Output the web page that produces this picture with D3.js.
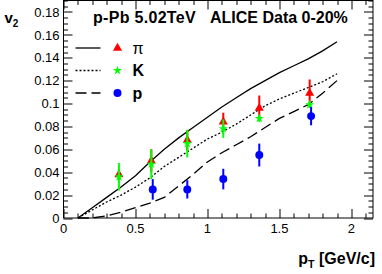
<!DOCTYPE html>
<html>
<head>
<meta charset="UTF-8">
<script src="https://d3js.org/d3.v7.min.js"></script>
<style>
body { margin: 0; background: #fff; }
svg { font-family: "Liberation Sans", Arial, Helvetica, sans-serif; }
</style>
</head>
<body>
<div id="chart"></div>
<script>
// model curves (pT grid)
var curvePt = [0.1, 0.2, 0.3, 0.4, 0.5, 0.6, 0.7, 0.8, 0.9, 1.0, 1.1, 1.2, 1.3, 1.4, 1.5, 1.6, 1.7, 1.8, 1.9];
var curvePi = [0, 0.009, 0.018, 0.027, 0.037, 0.049, 0.060, 0.070, 0.079, 0.088, 0.097, 0.105, 0.113, 0.120, 0.127, 0.133, 0.139, 0.146, 0.154];
var curveK  = [0, 0.007, 0.014, 0.020, 0.027, 0.035, 0.045, 0.053, 0.061, 0.069, 0.075, 0.082, 0.090, 0.098, 0.104, 0.109, 0.114, 0.119, 0.126];
var curveP  = [0, 0, 0.002, 0.005, 0.009, 0.013, 0.018, 0.028, 0.038, 0.049, 0.057, 0.064, 0.071, 0.079, 0.087, 0.093, 0.099, 0.109, 0.120];

// ALICE data
var piPt  = [0.385, 0.61, 0.86, 1.11, 1.36, 1.71];
var piV2  = [0.038, 0.050, 0.068, 0.084, 0.096, 0.109];
var piErr = [0.005, 0.010, 0.009, 0.008, 0.011, 0.012];
var kPt   = [0.385, 0.61, 0.86, 1.11, 1.36, 1.71];
var kV2   = [0.036, 0.047, 0.065, 0.078, 0.087, 0.099];
var kErr  = [0.012, 0.013, 0.012, 0.008, 0.003, 0.003];
var pPt   = [0.62, 0.86, 1.11, 1.36, 1.72];
var pV2   = [0.025, 0.025, 0.034, 0.055, 0.089];
var pErr  = [0.009, 0.008, 0.009, 0.010, 0.008];

var yTicks = [0, 0.02, 0.04, 0.06, 0.08, 0.1, 0.12, 0.14, 0.16, 0.18];
var xTicks = [0, 0.5, 1, 1.5, 2];

var W = 382, H = 274;
var margin = {top: 0.5, right: 9, bottom: 56, left: 63.5};
var width = W - margin.left - margin.right,
    height = H - margin.top - margin.bottom;

var svg = d3.select("#chart").append("svg")
    .attr("width", W).attr("height", H)
  .append("g")
    .attr("transform", "translate(" + margin.left + "," + margin.top + ")");

var x = d3.scaleLinear().domain([0, 2.15]).range([0, width]);
var y = d3.scaleLinear().domain([0, 0.19]).range([height, 0]);

// frame
svg.append("rect").attr("width", width).attr("height", height)
  .attr("fill", "none").attr("stroke", "#000").attr("stroke-width", 1);

// ROOT-style ticks on all four sides
var ticks = svg.append("g").attr("stroke", "#000").attr("stroke-width", 1);
d3.range(0, 0.19 + 1e-9, 0.005).forEach(function(v) {
  var major = Math.abs(v / 0.02 - Math.round(v / 0.02)) < 1e-6;
  var len = major ? 9 : 4.5;
  var yy = Math.round(y(v)) + 0.5;
  ticks.append("line").attr("x1", 0).attr("x2", len).attr("y1", yy).attr("y2", yy);
  ticks.append("line").attr("x1", width).attr("x2", width - len).attr("y1", yy).attr("y2", yy);
});
d3.range(0, 2.15 + 1e-9, 0.1).forEach(function(v) {
  var major = Math.abs(v / 0.5 - Math.round(v / 0.5)) < 1e-6;
  var len = major ? 9 : 4.5;
  var xx = Math.round(x(v)) + 0.5;
  ticks.append("line").attr("y1", height).attr("y2", height - len).attr("x1", xx).attr("x2", xx);
  ticks.append("line").attr("y1", 0).attr("y2", len).attr("x1", xx).attr("x2", xx);
});

// tick labels
svg.append("g").selectAll("text").data(yTicks).enter().append("text")
  .attr("x", -4).attr("y", function(d) { return y(d); })
  .attr("dy", "0.36em").attr("text-anchor", "end")
  .attr("font-size", "13px")
  .text(function(d) { return d === 0 ? "0" : d3.format("")(+d.toFixed(2)); });
svg.append("g").selectAll("text").data(xTicks).enter().append("text")
  .attr("x", function(d) { return x(d); }).attr("y", height + 15)
  .attr("text-anchor", "middle").attr("font-size", "13px")
  .text(function(d) { return d; });

// axis titles
var xt = svg.append("text").attr("x", width + 2).attr("y", height + 46)
  .attr("text-anchor", "end").attr("font-size", "16px").attr("font-weight", "bold");
xt.append("tspan").text("p");
xt.append("tspan").attr("font-size", "10.5px").attr("dy", 4).text("T");
xt.append("tspan").attr("dy", -4).text(" [GeV/c]");

var yt = svg.append("text").attr("x", -59).attr("y", 22)
  .attr("font-size", "15px").attr("font-weight", "bold");
yt.append("tspan").text("v");
yt.append("tspan").attr("font-size", "10px").attr("dy", 4).text("2");

// curves
function curveData(vals) {
  return curvePt.map(function(p, i) { return [p, vals[i]]; });
}
var line = d3.line().x(function(d) { return x(d[0]); }).y(function(d) { return y(d[1]); });
var styles = [
  {vals: curvePi, dash: null},
  {vals: curveK, dash: "2,2"},
  {vals: curveP, dash: "11,5"}
];
styles.forEach(function(s) {
  svg.append("path").datum(curveData(s.vals))
    .attr("d", line).attr("fill", "none")
    .attr("stroke", "#000").attr("stroke-width", 1.3)
    .attr("stroke-dasharray", s.dash);
});

// data points
var series = [
  {pt: piPt, v2: piV2, err: piErr, color: "#ff0000", sym: d3.symbolTriangle, size: 36},
  {pt: kPt, v2: kV2, err: kErr, color: "#00ff00", sym: d3.symbolStar, size: 26},
  {pt: pPt, v2: pV2, err: pErr, color: "#0000ff", sym: d3.symbolCircle, size: 50}
];
series.forEach(function(s) {
  var g = svg.append("g");
  s.pt.forEach(function(p, i) {
    g.append("line")
      .attr("x1", x(p)).attr("x2", x(p))
      .attr("y1", y(s.v2[i] - s.err[i])).attr("y2", y(s.v2[i] + s.err[i]))
      .attr("stroke", s.color).attr("stroke-width", 2);
    g.append("path")
      .attr("d", d3.symbol().type(s.sym).size(s.size))
      .attr("transform", "translate(" + x(p) + "," + y(s.v2[i]) + ")")
      .attr("fill", s.color);
  });
});

// header text
svg.append("text").attr("x", 29.5).attr("y", 22)
  .attr("font-size", "16px").attr("font-weight", "bold")
  .attr("letter-spacing", "0.3px").text("p-Pb 5.02TeV");
svg.append("text").attr("x", 146.5).attr("y", 22)
  .attr("font-size", "16px").attr("font-weight", "bold").text("ALICE Data 0-20%");

// legend
var legend = [
  {label: "\u03c0", dash: null, color: "#ff0000", sym: d3.symbolTriangle, size: 36, bold: "normal"},
  {label: "K", dash: "2,2", color: "#00ff00", sym: d3.symbolStar, size: 26, bold: "bold"},
  {label: "p", dash: "11,5", color: "#0000ff", sym: d3.symbolCircle, size: 50, bold: "bold"}
];
legend.forEach(function(l, i) {
  var ly = 47.5 + i * 22.5;
  svg.append("line").attr("x1", 12).attr("x2", 37).attr("y1", ly).attr("y2", ly)
    .attr("stroke", "#000").attr("stroke-width", 1.3).attr("stroke-dasharray", l.dash);
  svg.append("path").attr("d", d3.symbol().type(l.sym).size(l.size))
    .attr("transform", "translate(" + 54 + "," + ly + ")").attr("fill", l.color);
  svg.append("text").attr("x", 69).attr("y", ly).attr("dy", "0.36em")
    .attr("font-size", "16px").attr("font-weight", l.bold).text(l.label);
});
</script>
</body>
</html>
